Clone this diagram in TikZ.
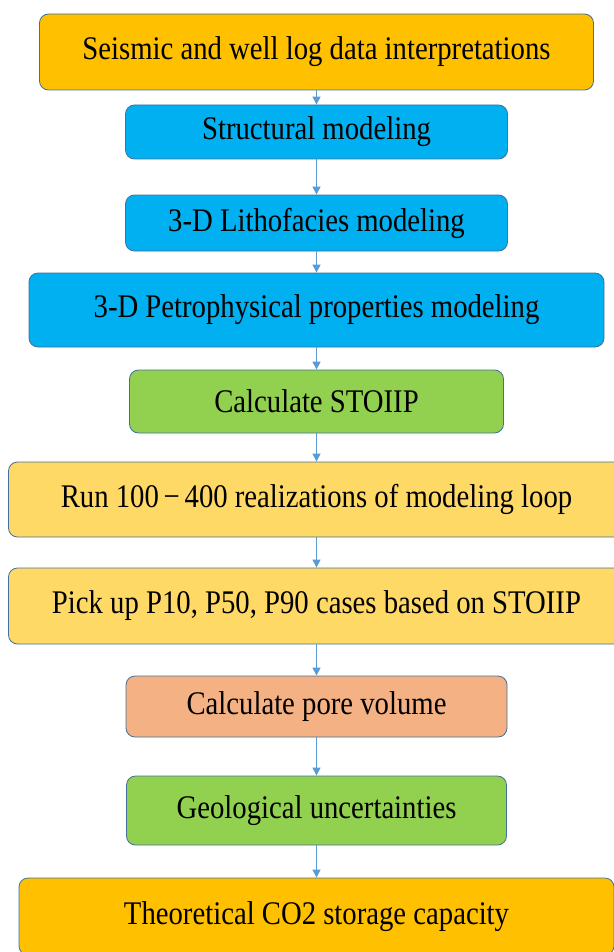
\documentclass[tikz,border=0pt]{standalone}
\usepackage{fontspec}
\usepackage{graphicx}
\setmainfont{Liberation Serif}
\usetikzlibrary{arrows.meta}
\definecolor{boxorange}{HTML}{FFC000}
\definecolor{boxblue}{HTML}{00B0F0}
\definecolor{boxgreen}{HTML}{92D050}
\definecolor{boxyellow}{HTML}{FFD966}
\definecolor{boxsalmon}{HTML}{F4B183}
\definecolor{edgeblue}{HTML}{41719C}
\definecolor{arrowblue}{HTML}{5B9BD5}
\newcommand{\narrowtext}[1]{\scalebox{0.87}[1]{#1}}

\begin{document}
\begin{tikzpicture}[x=1pt,y=-1pt]
\tikzstyle{box}=[draw=edgeblue, line width=0.8pt, rounded corners=9pt, align=center, inner sep=0pt, font=\fontsize{33}{38}\selectfont]
\tikzstyle{flow}=[draw=arrowblue, line width=1.1pt, -{Triangle[width=8pt,length=8pt]}]
\useasboundingbox (0,0) rectangle (613,952);
\node [box, fill=boxorange, minimum width=554pt, minimum height=76pt] (seis) at (316.5,52) {\narrowtext{Seismic and well log data interpretations}};
\node [box, fill=boxblue, minimum width=382pt, minimum height=54pt] (struct) at (316.5,132) {\narrowtext{Structural modeling}};
\node [box, fill=boxblue, minimum width=382pt, minimum height=56pt] (litho) at (316.5,223) {\narrowtext{3-D Lithofacies modeling}};
\node [box, fill=boxblue, minimum width=575pt, minimum height=74pt] (petro) at (316.5,310) {\narrowtext{3-D Petrophysical properties modeling}};
\node [box, fill=boxgreen, minimum width=374pt, minimum height=63pt] (stoiip) at (316.5,401.5) {\narrowtext{Calculate STOIIP}};
\node [box, fill=boxyellow, minimum width=616pt, minimum height=75pt] (runs) at (316.5,499.5) {\narrowtext{Run 100\,−\,400 realizations of modeling loop}};
\node [box, fill=boxyellow, minimum width=616pt, minimum height=76pt] (pick) at (316.5,606) {\narrowtext{Pick up P10, P50, P90 cases based on STOIIP}};
\node [box, fill=boxsalmon, minimum width=381pt, minimum height=61pt] (pore) at (316.5,706.5) {\narrowtext{Calculate pore volume}};
\node [box, fill=boxgreen, minimum width=380pt, minimum height=69pt] (geo) at (316.5,810.5) {\narrowtext{Geological uncertainties}};
\node [box, fill=boxorange, minimum width=595pt, minimum height=77pt] (co2) at (316.5,916.5) {\narrowtext{Theoretical CO2 storage capacity}};
% connectors
\draw [flow] (seis) -- (struct);
\draw [flow] (struct) -- (litho);
\draw [flow] (litho) -- (petro);
\draw [flow] (petro) -- (stoiip);
\draw [flow] (stoiip) -- (runs);
\draw [flow] (runs) -- (pick);
\draw [flow] (pick) -- (pore);
\draw [flow] (pore) -- (geo);
\draw [flow] (geo) -- (co2);
\end{tikzpicture}
\end{document}
